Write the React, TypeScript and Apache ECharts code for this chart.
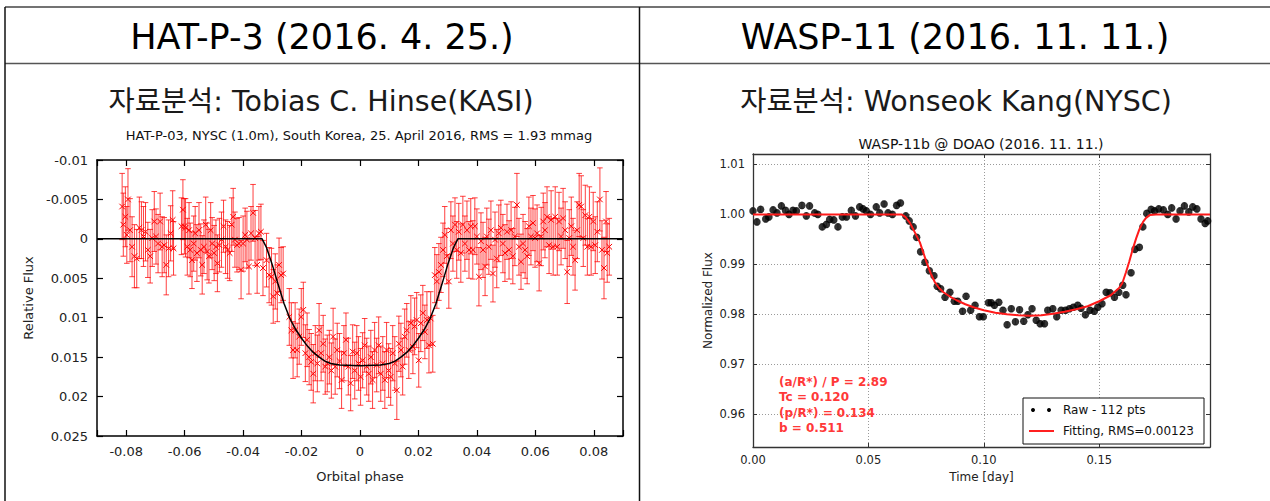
import React, { useEffect, useRef } from 'react';
import * as echarts from 'echarts';

// ---------- HAT-P-3 (left) ----------
// [orbital phase, relative flux, error]
const HAT_DATA: number[][] = [
  [-0.0814, -0.0041, 0.0042], [-0.0810, -0.0018, 0.0040], [-0.0803, -0.0028, 0.0038], [-0.0798, -0.0005, 0.0036],
  [-0.0794, -0.0050, 0.0039], [-0.0787, -0.0011, 0.0040], [-0.0780, 0.0010, 0.0038], [-0.0772, 0.0022, 0.0040],
  [-0.0764, 0.0025, 0.0037], [-0.0755, -0.0014, 0.0039], [-0.0748, -0.0011, 0.0036], [-0.0741, -0.0003, 0.0038],
  [-0.0734, -0.0009, 0.0037], [-0.0726, 0.0014, 0.0035], [-0.0718, 0.0022, 0.0034], [-0.0711, -0.0001, 0.0036],
  [-0.0704, -0.0022, 0.0038], [-0.0698, -0.0003, 0.0035], [-0.0691, 0.0006, 0.0037], [-0.0684, -0.0022, 0.0036],
  [-0.0677, 0.0010, 0.0038], [-0.0670, 0.0008, 0.0035], [-0.0663, 0.0033, 0.0038], [-0.0655, 0.0012, 0.0036],
  [-0.0648, -0.0007, 0.0035], [-0.0641, -0.0024, 0.0037], [-0.0638, 0.0012, 0.0034],
  [-0.0611, -0.0016, 0.0036], [-0.0606, -0.0037, 0.0038], [-0.0601, -0.0016, 0.0035], [-0.0597, -0.0014, 0.0037],
  [-0.0591, 0.0010, 0.0036], [-0.0585, -0.0011, 0.0035], [-0.0581, 0.0014, 0.0034], [-0.0575, 0.0027, 0.0036],
  [-0.0569, 0.0006, 0.0035], [-0.0564, -0.0007, 0.0034], [-0.0558, 0.0018, 0.0036], [-0.0551, -0.0011, 0.0035],
  [-0.0545, 0.0014, 0.0033], [-0.0540, 0.0033, 0.0037], [-0.0534, 0.0010, 0.0034], [-0.0528, -0.0018, 0.0035],
  [-0.0523, 0.0016, 0.0036], [-0.0517, 0.0022, 0.0034], [-0.0511, -0.0011, 0.0035], [-0.0506, 0.0006, 0.0033],
  [-0.0499, 0.0018, 0.0035], [-0.0493, 0.0010, 0.0034], [-0.0488, 0.0031, 0.0036], [-0.0481, 0.0008, 0.0034],
  [-0.0474, 0.0001, 0.0035], [-0.0467, -0.0016, 0.0033], [-0.0460, 0.0010, 0.0034], [-0.0453, 0.0014, 0.0036],
  [-0.0446, 0.0018, 0.0035], [-0.0439, -0.0018, 0.0034], [-0.0434, -0.0028, 0.0036], [-0.0428, 0.0001, 0.0035],
  [-0.0421, 0.0008, 0.0034], [-0.0414, 0.0006, 0.0033], [-0.0407, 0.0039, 0.0037], [-0.0400, 0.0006, 0.0035],
  [-0.0393, -0.0005, 0.0034], [-0.0387, 0.0001, 0.0036], [-0.0380, 0.0035, 0.0035], [-0.0373, -0.0007, 0.0034],
  [-0.0366, -0.0033, 0.0036], [-0.0359, -0.0001, 0.0035], [-0.0352, 0.0033, 0.0036], [-0.0346, -0.0007, 0.0034],
  [-0.0339, -0.0009, 0.0035], [-0.0332, 0.0037, 0.0035],
  [-0.0320, 0.0027, 0.0034], [-0.0311, 0.0046, 0.0035], [-0.0303, 0.0048, 0.0036], [-0.0297, 0.0073, 0.0034],
  [-0.0290, 0.0054, 0.0035], [-0.0283, 0.0069, 0.0036], [-0.0277, 0.0033, 0.0034], [-0.0270, 0.0046, 0.0035],
  [-0.0263, 0.0044, 0.0034], [-0.0242, 0.0099, 0.0036], [-0.0235, 0.0116, 0.0035], [-0.0229, 0.0141, 0.0036],
  [-0.0222, 0.0116, 0.0035], [-0.0215, 0.0141, 0.0034], [-0.0208, 0.0124, 0.0035], [-0.0201, 0.0099, 0.0036],
  [-0.0194, 0.0090, 0.0035], [-0.0187, 0.0145, 0.0036], [-0.0181, 0.0128, 0.0034], [-0.0174, 0.0150, 0.0035],
  [-0.0167, 0.0156, 0.0036], [-0.0160, 0.0171, 0.0037], [-0.0153, 0.0145, 0.0035], [-0.0146, 0.0158, 0.0036],
  [-0.0140, 0.0116, 0.0034], [-0.0133, 0.0145, 0.0035], [-0.0126, 0.0133, 0.0036], [-0.0119, 0.0162, 0.0035],
  [-0.0112, 0.0158, 0.0036], [-0.0105, 0.0150, 0.0034], [-0.0098, 0.0167, 0.0035], [-0.0092, 0.0124, 0.0036],
  [-0.0085, 0.0162, 0.0035], [-0.0078, 0.0141, 0.0034], [-0.0070, 0.0155, 0.0035], [-0.0063, 0.0179, 0.0036],
  [-0.0055, 0.0145, 0.0035], [-0.0048, 0.0128, 0.0034], [-0.0040, 0.0162, 0.0036], [-0.0032, 0.0183, 0.0035],
  [-0.0025, 0.0143, 0.0034], [-0.0018, 0.0167, 0.0036], [-0.0011, 0.0145, 0.0035], [-0.0005, 0.0158, 0.0034],
  [0.0002, 0.0175, 0.0036], [0.0009, 0.0154, 0.0035], [0.0016, 0.0135, 0.0034], [0.0023, 0.0162, 0.0036],
  [0.0030, 0.0171, 0.0035], [0.0037, 0.0150, 0.0034], [0.0043, 0.0179, 0.0036], [0.0050, 0.0141, 0.0035],
  [0.0057, 0.0160, 0.0034], [0.0064, 0.0135, 0.0036], [0.0071, 0.0171, 0.0035], [0.0078, 0.0158, 0.0034],
  [0.0085, 0.0179, 0.0036], [0.0091, 0.0141, 0.0035], [0.0098, 0.0167, 0.0034], [0.0105, 0.0175, 0.0036],
  [0.0112, 0.0145, 0.0035], [0.0119, 0.0158, 0.0034], [0.0126, 0.0192, 0.0037], [0.0133, 0.0133, 0.0035],
  [0.0140, 0.0141, 0.0034], [0.0146, 0.0162, 0.0036], [0.0153, 0.0124, 0.0035], [0.0160, 0.0116, 0.0034],
  [0.0167, 0.0141, 0.0036], [0.0174, 0.0107, 0.0035], [0.0181, 0.0137, 0.0034], [0.0187, 0.0111, 0.0036],
  [0.0194, 0.0103, 0.0035], [0.0201, 0.0154, 0.0034], [0.0208, 0.0107, 0.0036], [0.0215, 0.0094, 0.0035],
  [0.0222, 0.0118, 0.0034], [0.0229, 0.0103, 0.0036], [0.0236, 0.0135, 0.0035], [0.0242, 0.0101, 0.0034],
  [0.0249, 0.0133, 0.0036], [0.0256, 0.0046, 0.0035], [0.0263, 0.0054, 0.0034], [0.0270, 0.0042, 0.0036],
  [0.0277, 0.0033, 0.0035], [0.0284, 0.0014, 0.0034], [0.0290, -0.0005, 0.0036], [0.0297, 0.0022, 0.0035],
  [0.0304, 0.0054, 0.0034], [0.0311, -0.0011, 0.0036], [0.0318, 0.0006, 0.0035], [0.0325, -0.0018, 0.0034],
  [0.0331, 0.0014, 0.0036],
  [0.0338, -0.0009, 0.0036], [0.0345, 0.0018, 0.0037], [0.0352, -0.0018, 0.0036], [0.0359, 0.0006, 0.0035],
  [0.0366, -0.0011, 0.0037], [0.0373, 0.0014, 0.0036], [0.0379, -0.0016, 0.0035], [0.0386, 0.0014, 0.0037],
  [0.0393, -0.0016, 0.0036], [0.0400, -0.0003, 0.0035], [0.0407, 0.0048, 0.0037], [0.0414, 0.0003, 0.0036],
  [0.0421, 0.0014, 0.0035], [0.0428, 0.0035, 0.0037], [0.0434, -0.0003, 0.0036], [0.0441, 0.0010, 0.0035],
  [0.0448, -0.0011, 0.0037], [0.0455, 0.0044, 0.0036], [0.0462, 0.0001, 0.0035], [0.0468, 0.0025, 0.0037],
  [0.0475, -0.0007, 0.0036], [0.0482, -0.0014, 0.0035], [0.0489, 0.0006, 0.0037], [0.0496, 0.0018, 0.0036],
  [0.0503, -0.0009, 0.0035], [0.0510, 0.0014, 0.0037], [0.0517, -0.0011, 0.0036], [0.0523, 0.0022, 0.0035],
  [0.0530, -0.0003, 0.0037], [0.0537, -0.0043, 0.0040], [0.0544, 0.0010, 0.0036], [0.0551, 0.0029, 0.0035],
  [0.0558, 0.0006, 0.0037], [0.0565, 0.0014, 0.0036], [0.0572, 0.0022, 0.0035], [0.0578, -0.0016, 0.0037],
  [0.0585, -0.0003, 0.0036], [0.0592, -0.0020, 0.0035], [0.0599, -0.0001, 0.0037], [0.0606, -0.0007, 0.0036],
  [0.0613, 0.0031, 0.0035], [0.0620, -0.0003, 0.0037], [0.0627, -0.0022, 0.0036], [0.0633, -0.0011, 0.0035],
  [0.0640, -0.0028, 0.0038], [0.0647, 0.0008, 0.0036], [0.0654, -0.0024, 0.0037], [0.0661, 0.0010, 0.0036],
  [0.0668, -0.0028, 0.0038], [0.0675, 0.0010, 0.0036], [0.0681, -0.0022, 0.0037], [0.0688, -0.0003, 0.0036],
  [0.0695, -0.0026, 0.0038], [0.0702, -0.0011, 0.0036], [0.0709, 0.0042, 0.0040], [0.0716, -0.0001, 0.0036],
  [0.0723, -0.0016, 0.0037], [0.0729, 0.0010, 0.0036], [0.0736, 0.0027, 0.0038], [0.0743, -0.0011, 0.0036],
  [0.0750, -0.0043, 0.0040], [0.0757, -0.0041, 0.0039], [0.0764, -0.0001, 0.0036], [0.0771, -0.0030, 0.0038],
  [0.0778, 0.0010, 0.0036], [0.0785, -0.0028, 0.0038], [0.0791, 0.0010, 0.0036], [0.0798, -0.0022, 0.0037],
  [0.0805, 0.0008, 0.0036], [0.0812, -0.0009, 0.0038], [0.0821, -0.0050, 0.0040], [0.0828, 0.0014, 0.0037],
  [0.0835, 0.0037, 0.0039], [0.0842, -0.0022, 0.0038], [0.0846, 0.0018, 0.0037], [0.0853, 0.0010, 0.0036],
];

// transit model (black line)
const HAT_MODEL: number[][] = [
  [-0.09, 0], [-0.0335, 0], [-0.032, 0.0011], [-0.030, 0.0033], [-0.028, 0.0058], [-0.026, 0.0082],
  [-0.024, 0.0101], [-0.022, 0.0115], [-0.020, 0.0126], [-0.018, 0.0136], [-0.016, 0.0144], [-0.014, 0.0150],
  [-0.012, 0.0155], [-0.010, 0.0158], [-0.007, 0.0160], [0, 0.0161], [0.007, 0.0160], [0.010, 0.0158],
  [0.012, 0.0155], [0.014, 0.0150], [0.016, 0.0144], [0.018, 0.0136], [0.020, 0.0126], [0.022, 0.0115],
  [0.024, 0.0101], [0.026, 0.0082], [0.028, 0.0058], [0.030, 0.0033], [0.032, 0.0011], [0.0335, 0], [0.09, 0],
];

const HAT_X_RANGE = [-0.09, 0.09];
const HAT_Y_RANGE = [-0.01, 0.025];

// ---------- WASP-11 (right) ----------
// [time (day), normalized flux]
const WASP_DATA: number[][] = [
  [0.0000, 1.0007], [0.0017, 0.9985], [0.0033, 1.0010], [0.0055, 0.9991], [0.0069, 0.9995], [0.0087, 1.0009],
  [0.0104, 1.0003], [0.0123, 1.0017], [0.0141, 1.0008], [0.0156, 1.0000], [0.0173, 1.0008], [0.0188, 1.0007],
  [0.0212, 1.0018], [0.0231, 0.9997], [0.0245, 1.0017], [0.0267, 1.0003], [0.0281, 1.0000], [0.0300, 0.9975],
  [0.0318, 0.9980], [0.0332, 0.9990], [0.0350, 0.9989], [0.0368, 0.9975], [0.0387, 0.9995], [0.0405, 0.9995],
  [0.0426, 1.0008], [0.0444, 0.9997], [0.0462, 1.0015], [0.0477, 1.0011], [0.0491, 1.0007], [0.0509, 1.0000],
  [0.0534, 1.0015], [0.0549, 1.0003], [0.0568, 1.0021], [0.0585, 1.0003], [0.0604, 1.0000], [0.0622, 1.0018],
  [0.0639, 1.0023], [0.0662, 0.9997], [0.0677, 0.9987], [0.0694, 0.9975], [0.0709, 0.9954], [0.0726, 0.9925],
  [0.0745, 0.9904], [0.0764, 0.9887], [0.0784, 0.9877], [0.0798, 0.9856], [0.0813, 0.9851], [0.0832, 0.9834],
  [0.0853, 0.9844], [0.0872, 0.9826], [0.0887, 0.9826], [0.0908, 0.9806], [0.0923, 0.9836], [0.0943, 0.9808],
  [0.0962, 0.9818], [0.0981, 0.9795], [0.0998, 0.9795], [0.1020, 0.9823], [0.1032, 0.9823], [0.1046, 0.9818],
  [0.1065, 0.9824], [0.1083, 0.9808], [0.1101, 0.9779], [0.1119, 0.9811], [0.1137, 0.9785], [0.1155, 0.9809],
  [0.1173, 0.9786], [0.1191, 0.9799], [0.1209, 0.9811], [0.1227, 0.9788], [0.1244, 0.9781], [0.1263, 0.9781],
  [0.1277, 0.9808], [0.1299, 0.9811], [0.1316, 0.9795], [0.1335, 0.9808], [0.1354, 0.9808], [0.1371, 0.9811],
  [0.1388, 0.9814], [0.1407, 0.9818], [0.1421, 0.9812], [0.1440, 0.9799], [0.1460, 0.9808], [0.1479, 0.9806],
  [0.1494, 0.9814], [0.1512, 0.9821], [0.1530, 0.9844], [0.1547, 0.9843], [0.1566, 0.9834], [0.1585, 0.9844],
  [0.1602, 0.9858], [0.1616, 0.9839], [0.1638, 0.9883], [0.1655, 0.9930], [0.1674, 0.9934], [0.1689, 0.9975],
  [0.1706, 1.0002], [0.1725, 1.0010], [0.1740, 1.0007], [0.1758, 1.0011], [0.1778, 1.0009], [0.1797, 1.0000],
  [0.1814, 1.0013], [0.1833, 0.9991], [0.1850, 1.0007], [0.1869, 1.0017], [0.1888, 1.0005], [0.1905, 1.0015],
  [0.1923, 1.0011], [0.1941, 0.9991], [0.1959, 0.9982], [0.1970, 0.9987],
];
const WASP_ERR = 0.0006;

const WASP_FIT: number[][] = [
  [0, 1.0], [0.0643, 1.0], [0.066, 0.9995], [0.068, 0.9983], [0.070, 0.9965], [0.0723, 0.9944], [0.0752, 0.9904],
  [0.0770, 0.9882], [0.0788, 0.9864], [0.0805, 0.9853], [0.0825, 0.9844], [0.0855, 0.9835], [0.0882, 0.9828],
  [0.092, 0.9820], [0.0955, 0.9814], [0.100, 0.9808], [0.105, 0.9803], [0.110, 0.9800], [0.115, 0.9798],
  [0.120, 0.9797], [0.125, 0.9798], [0.130, 0.9801], [0.135, 0.9805], [0.140, 0.9810], [0.145, 0.9816],
  [0.150, 0.9826], [0.155, 0.9838], [0.1585, 0.9852], [0.160, 0.9862], [0.1616, 0.9884], [0.163, 0.9905],
  [0.1645, 0.9930], [0.166, 0.9952], [0.1674, 0.9970], [0.169, 0.9985], [0.1703, 0.9993], [0.172, 0.9999],
  [0.1746, 1.0], [0.198, 1.0],
];

const WASP_X_RANGE = [0, 0.198];
const WASP_Y_RANGE = [0.9534, 1.0121];

const FIT_PARAMS = ['(a/R*) / P = 2.89', 'Tc = 0.120', '(p/R*) = 0.134', 'b = 0.511'];

const FONT = '"DejaVu Sans", sans-serif';
const TITLE_FONT = '"DejaVu Sans", "Noto Sans CJK KR", sans-serif';

function num(v: number, d: number) {
  return String(parseFloat(v.toFixed(d)));
}

export default function App() {
  const ref = useRef<HTMLDivElement>(null);

  useEffect(() => {
    document.body.style.margin = '0';
    const chart = echarts.init(ref.current!, null, { renderer: 'svg' });

    const gnuAxisLine = { show: true, onZero: false, lineStyle: { color: '#000', width: 1.5 } };
    const gnuTick = { show: true, inside: true, length: 6, lineStyle: { color: '#000', width: 1.2 } };
    const mplAxisLine = { show: true, onZero: false, lineStyle: { color: '#333', width: 1.3 } };
    const mplTick = { show: true, inside: true, length: 4, lineStyle: { color: '#333', width: 1 } };
    const mplSplit = { show: true, lineStyle: { color: '#9a9a9a', type: [1, 2], width: 1 } };

    const graphics: any[] = [
      { type: 'line', shape: { x1: 5, y1: 7, x2: 1270, y2: 7 }, style: { stroke: '#444', lineWidth: 1.5 } },
      { type: 'line', shape: { x1: 5, y1: 63.5, x2: 1270, y2: 63.5 }, style: { stroke: '#555', lineWidth: 1.5 } },
      { type: 'line', shape: { x1: 5, y1: 7, x2: 5, y2: 501 }, style: { stroke: '#111', lineWidth: 1.5 } },
      { type: 'line', shape: { x1: 639.5, y1: 7, x2: 639.5, y2: 501 }, style: { stroke: '#111', lineWidth: 1.5 } },
      { type: 'text', x: 322, y: 37, style: { text: 'HAT-P-3 (2016. 4. 25.)', fontSize: 35, fontFamily: TITLE_FONT, fill: '#000', align: 'center', verticalAlign: 'middle' } },
      { type: 'text', x: 955, y: 37, style: { text: 'WASP-11 (2016. 11. 11.)', fontSize: 35, fontFamily: TITLE_FONT, fill: '#000', align: 'center', verticalAlign: 'middle' } },
      { type: 'text', x: 321, y: 101, style: { text: '자료분석: Tobias C. Hinse(KASI)', fontSize: 28.5, fontFamily: TITLE_FONT, fill: '#1a1a1a', align: 'center', verticalAlign: 'middle' } },
      { type: 'text', x: 956, y: 101, style: { text: '자료분석: Wonseok Kang(NYSC)', fontSize: 28.5, fontFamily: TITLE_FONT, fill: '#1a1a1a', align: 'center', verticalAlign: 'middle' } },
      { type: 'text', x: 359, y: 135, style: { text: 'HAT-P-03, NYSC (1.0m), South Korea, 25. April 2016, RMS = 1.93 mmag', fontSize: 13, fontFamily: FONT, fill: '#111', align: 'center', verticalAlign: 'middle' } },
      { type: 'text', x: 981, y: 144, style: { text: 'WASP-11b @ DOAO (2016. 11. 11.)', fontSize: 14, fontFamily: FONT, fill: '#111', align: 'center', verticalAlign: 'middle' } },
      // legend box
      { type: 'rect', z: 100, shape: { x: 1023, y: 398, width: 181, height: 46 }, style: { fill: '#fff', stroke: '#111', lineWidth: 1 } },
      { type: 'circle', z: 101, shape: { cx: 1033, cy: 410, r: 2 }, style: { fill: '#000' } },
      { type: 'circle', z: 101, shape: { cx: 1049, cy: 410, r: 2 }, style: { fill: '#000' } },
      { type: 'text', z: 101, x: 1063, y: 410, style: { text: 'Raw - 112 pts', fontSize: 12, fontFamily: FONT, fill: '#111', align: 'left', verticalAlign: 'middle' } },
      { type: 'line', z: 101, shape: { x1: 1029, y1: 431, x2: 1054, y2: 431 }, style: { stroke: '#ff2020', lineWidth: 2 } },
      { type: 'text', z: 101, x: 1063, y: 431, style: { text: 'Fitting, RMS=0.00123', fontSize: 12, fontFamily: FONT, fill: '#111', align: 'left', verticalAlign: 'middle' } },
    ];
    FIT_PARAMS.forEach((t, i) => {
      graphics.push({ type: 'text', z: 50, x: 779, y: 382 + i * 15.3, style: { text: t, fontSize: 12, fontWeight: 'bold', fontFamily: FONT, fill: '#ff3838', align: 'left', verticalAlign: 'middle' } });
    });

    const option: any = {
      animation: false,
      backgroundColor: '#fff',
      textStyle: { fontFamily: FONT },
      grid: [
        { left: 97, top: 160, width: 526, height: 276, show: false },
        { left: 753, top: 154, width: 457, height: 293, show: false },
      ],
      xAxis: [
        {
          type: 'value', gridIndex: 0, position: 'bottom', min: HAT_X_RANGE[0], max: HAT_X_RANGE[1],
          minInterval: 0.02, maxInterval: 0.02,
          axisLine: gnuAxisLine, axisTick: gnuTick, splitLine: { show: false },
          axisLabel: { color: '#222', fontSize: 13, margin: 9, formatter: (v: number) => (Math.abs(v) > 0.085 ? '' : num(v, 3)) },
          name: 'Orbital phase', nameLocation: 'middle', nameGap: 34, nameTextStyle: { fontSize: 13, color: '#222' },
        },
        {
          type: 'value', gridIndex: 0, position: 'top', min: HAT_X_RANGE[0], max: HAT_X_RANGE[1],
          minInterval: 0.02, maxInterval: 0.02,
          axisLine: gnuAxisLine, axisTick: gnuTick, splitLine: { show: false }, axisLabel: { show: false },
        },
        {
          type: 'value', gridIndex: 1, position: 'bottom', min: WASP_X_RANGE[0], max: WASP_X_RANGE[1], interval: 0.05,
          axisLine: mplAxisLine, axisTick: mplTick, splitLine: mplSplit,
          axisLabel: { color: '#222', fontSize: 11.5, margin: 7, formatter: (v: number) => (v > 0.16 ? '' : v.toFixed(2)) },
          name: 'Time [day]', nameLocation: 'middle', nameGap: 23, nameTextStyle: { fontSize: 12, color: '#222' },
        },
        {
          type: 'value', gridIndex: 1, position: 'top', min: WASP_X_RANGE[0], max: WASP_X_RANGE[1], interval: 0.05,
          axisLine: mplAxisLine, axisTick: mplTick, splitLine: { show: false }, axisLabel: { show: false },
        },
      ],
      yAxis: [
        {
          type: 'value', gridIndex: 0, position: 'left', inverse: true, min: HAT_Y_RANGE[0], max: HAT_Y_RANGE[1], interval: 0.005,
          axisLine: gnuAxisLine, axisTick: gnuTick, splitLine: { show: false },
          axisLabel: { color: '#222', fontSize: 13, margin: 9, formatter: (v: number) => num(v, 4) },
          name: 'Relative Flux', nameLocation: 'middle', nameGap: 62, nameRotate: 90, nameTextStyle: { fontSize: 13, color: '#222' },
        },
        {
          type: 'value', gridIndex: 0, position: 'right', inverse: true, min: HAT_Y_RANGE[0], max: HAT_Y_RANGE[1], interval: 0.005,
          axisLine: gnuAxisLine, axisTick: gnuTick, splitLine: { show: false }, axisLabel: { show: false },
        },
        {
          type: 'value', gridIndex: 1, position: 'left', min: WASP_Y_RANGE[0], max: WASP_Y_RANGE[1],
          minInterval: 0.01, maxInterval: 0.01,
          axisLine: mplAxisLine, axisTick: mplTick, splitLine: mplSplit,
          axisLabel: { color: '#222', fontSize: 11.5, margin: 8, formatter: (v: number) => (v < 0.955 || v > 1.011 ? '' : v.toFixed(2)) },
          name: 'Normalized Flux', nameLocation: 'middle', nameGap: 39, nameRotate: 90, nameTextStyle: { fontSize: 12, color: '#222' },
        },
        {
          type: 'value', gridIndex: 1, position: 'right', min: WASP_Y_RANGE[0], max: WASP_Y_RANGE[1],
          minInterval: 0.01, maxInterval: 0.01,
          axisLine: mplAxisLine, axisTick: mplTick, splitLine: { show: false }, axisLabel: { show: false },
        },
      ],
      series: [
        {
          name: 'HAT-P-3 data', type: 'custom', xAxisIndex: 0, yAxisIndex: 0, data: HAT_DATA, z: 2,
          encode: { x: 0, y: 1 },
          renderItem: (params: any, api: any) => {
            const x = api.value(0), y = api.value(1), e = api.value(2);
            const c = api.coord([x, y]);
            const lo = api.coord([x, y - e]);
            const hi = api.coord([x, y + e]);
            const bar = 'rgba(255,0,0,0.75)';
            const cap = 2.8, m = 2.8;
            return {
              type: 'group',
              children: [
                { type: 'line', shape: { x1: c[0], y1: lo[1], x2: c[0], y2: hi[1] }, style: { stroke: bar, lineWidth: 1 } },
                { type: 'line', shape: { x1: c[0] - cap, y1: lo[1], x2: c[0] + cap, y2: lo[1] }, style: { stroke: bar, lineWidth: 1 } },
                { type: 'line', shape: { x1: c[0] - cap, y1: hi[1], x2: c[0] + cap, y2: hi[1] }, style: { stroke: bar, lineWidth: 1 } },
                { type: 'line', shape: { x1: c[0] - m, y1: c[1] - m, x2: c[0] + m, y2: c[1] + m }, style: { stroke: '#ff0000', lineWidth: 1 } },
                { type: 'line', shape: { x1: c[0] - m, y1: c[1] + m, x2: c[0] + m, y2: c[1] - m }, style: { stroke: '#ff0000', lineWidth: 1 } },
              ],
            };
          },
        },
        {
          name: 'HAT-P-3 model', type: 'line', xAxisIndex: 0, yAxisIndex: 0, data: HAT_MODEL, z: 3,
          showSymbol: false, symbol: 'none', lineStyle: { color: '#000', width: 1.5 },
        },
        {
          name: 'WASP-11 errors', type: 'custom', xAxisIndex: 2, yAxisIndex: 2, data: WASP_DATA, z: 2,
          encode: { x: 0, y: 1 },
          renderItem: (params: any, api: any) => {
            const x = api.value(0), y = api.value(1);
            const lo = api.coord([x, y - WASP_ERR]);
            const hi = api.coord([x, y + WASP_ERR]);
            const g = '#a0a0a0';
            return {
              type: 'group',
              children: [
                { type: 'line', shape: { x1: lo[0], y1: lo[1], x2: lo[0], y2: hi[1] }, style: { stroke: g, lineWidth: 1 } },
                { type: 'line', shape: { x1: lo[0] - 2, y1: lo[1], x2: lo[0] + 2, y2: lo[1] }, style: { stroke: g, lineWidth: 1 } },
                { type: 'line', shape: { x1: lo[0] - 2, y1: hi[1], x2: lo[0] + 2, y2: hi[1] }, style: { stroke: g, lineWidth: 1 } },
              ],
            };
          },
        },
        {
          name: 'Raw - 112 pts', type: 'scatter', xAxisIndex: 2, yAxisIndex: 2, data: WASP_DATA, z: 3,
          symbol: 'circle', symbolSize: 7.5, itemStyle: { color: '#000' },
        },
        {
          name: 'Fitting, RMS=0.00123', type: 'line', xAxisIndex: 2, yAxisIndex: 2, data: WASP_FIT, z: 4,
          showSymbol: false, symbol: 'none', lineStyle: { color: '#ff1a1a', width: 2 },
        },
      ],
      graphic: graphics,
    };

    chart.setOption(option);
    return () => chart.dispose();
  }, []);

  return <div ref={ref} style={{ width: 1270, height: 501 }} />;
}
